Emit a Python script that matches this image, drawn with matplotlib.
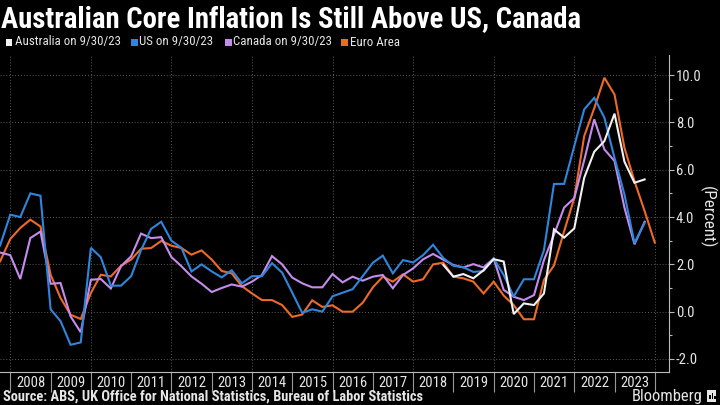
import os
import datetime as dt
import matplotlib
matplotlib.use("Agg")
import matplotlib.pyplot as plt
import matplotlib.dates as mdates
from matplotlib import font_manager as fm
from matplotlib.patches import Rectangle
from matplotlib.ticker import FixedLocator, NullFormatter
import pandas as pd

# ---------------- data ----------------
title = "Australian Core Inflation Is Still Above US, Canada"
series_names = ["Australia on 9/30/23", "US on 9/30/23", "Canada on 9/30/23", "Euro Area"]
source = "Source: ABS, UK Office for National Statistics, Bureau of Labor Statistics"
y_label = "(Percent)"
year_labels = [str(y) for y in range(2008, 2024)]
y_ticks = [-2, 0, 2, 4, 6, 8, 10]

first_quarter = "2007-09-30"
australia_first_quarter = "2018-09-30"

us = [2.8, 4.1, 4.0, 5.0, 4.9, 0.1, -0.4, -1.4, -1.3, 2.7,
      2.3, 1.1, 1.1, 1.5, 2.6, 3.5, 3.8, 3.0, 2.7, 1.7,
      2.0, 1.7, 1.45, 1.75, 1.2, 1.5, 1.5, 2.05, 1.65, 0.8,
      -0.05, 0.1, 0.0, 0.65, 0.8, 0.95, 1.5, 2.07, 2.37, 1.62,
      2.18, 2.08, 2.39, 2.83, 2.27, 1.94, 1.88, 1.68, 1.72, 2.25,
      1.55, 0.64, 1.37, 1.37, 2.6, 5.4, 5.4, 7.0, 8.55, 9.04,
      8.2, 6.5, 4.96, 2.9, 3.75]
canada = [2.5, 2.39, 1.38, 3.11, 3.39, 1.18, 1.21, -0.2, -0.87, 1.35,
          1.38, 0.98, 1.92, 2.34, 3.3, 3.11, 3.15, 2.31, 1.92, 1.49,
          1.18, 0.83, 1.0, 1.15, 1.06, 1.27, 1.55, 2.35, 2.0, 1.44,
          1.2, 1.03, 1.03, 1.59, 1.24, 1.48, 1.31, 1.48, 1.55, 0.99,
          1.55, 1.83, 2.21, 2.44, 2.2, 1.97, 1.87, 2.01, 1.87, 2.25,
          0.92, 0.63, 0.49, 0.7, 2.18, 3.25, 4.4, 4.8, 6.4, 8.13,
          6.86, 6.37, 4.4, 2.85, 3.8]
euro = [2.13, 3.07, 3.54, 3.89, 3.6, 1.56, 0.58, -0.13, -0.31, 0.79,
        1.56, 1.49, 1.94, 2.2, 2.66, 2.69, 2.99, 2.79, 2.69, 2.41,
        2.59, 2.2, 1.72, 1.62, 1.08, 0.77, 0.49, 0.49, 0.28, -0.22,
        -0.12, 0.48, 0.2, 0.27, 0.0, 0.0, 0.38, 1.03, 1.48, 1.27,
        1.58, 1.27, 1.37, 2.0, 2.07, 1.48, 1.41, 1.27, 0.77, 1.27,
        0.68, 0.28, -0.32, -0.32, 1.34, 1.95, 3.4, 4.8, 7.42, 8.6,
        9.89, 9.18, 6.93, 5.52, 4.25, 2.92]
australia = [1.98, 1.48, 1.59, 1.41, 1.75, 2.22, 2.12, -0.1, 0.35, 0.28,
             0.77, 3.48, 3.13, 3.52, 5.66, 6.76, 7.21, 8.37, 6.34, 5.45,
             5.59]

colors = ["#f2f2f2", "#2f86dc", "#c58cee", "#ee6a26"]

# ---------------- fonts ----------------
def find_font(bold):
    prefs = ["robotocondensed", "liberationsansnarrow", "opensanscondensed",
             "dejavusanscondensed"]
    bad = ["italic", "oblique", "light", "thin", "medium", "semibold",
           "extrabold", "black", "semi", "extra"]
    files = sorted({f.fname for f in fm.fontManager.ttflist})
    for p in prefs:
        for fn in files:
            base = os.path.basename(fn).lower().replace("-", "").replace("_", "").replace(" ", "")
            if not base.startswith(p):
                continue
            rest = base[len(p):]
            if any(b in rest for b in bad):
                continue
            is_bold = "bold" in rest
            if is_bold == bold:
                return fm.FontProperties(fname=fn)
    return fm.FontProperties(family="DejaVu Sans", weight="bold" if bold else "normal")

fp_bold = find_font(True)
fp_reg = find_font(False)

# ---------------- figure ----------------
W, H = 720, 405
fig = plt.figure(figsize=(7.2, 4.05), dpi=100, facecolor="black")
renderer = fig.canvas.get_renderer()

def fx(px):
    return px / W

def fy(py):
    return 1 - py / H

def fit_width(txt, target):
    w = txt.get_window_extent(renderer).width
    txt.set_fontsize(txt.get_fontsize() * target / w)

ax = fig.add_axes([0, fy(372), fx(669), (372 - 55) / H])
ax.set_facecolor("black")

def quarter_dates(start, n):
    s = pd.Timestamp(start)
    return [(s + pd.offsets.QuarterEnd(i)).to_pydatetime() for i in range(n)]

d_all = quarter_dates(first_quarter, len(euro))
d_us = d_all[:len(us)]
d_ca = d_all[:len(canada)]
d_au = quarter_dates(australia_first_quarter, len(australia))

lw = 1.5
ax.plot(d_all, euro, color=colors[3], lw=lw, zorder=3, solid_joinstyle="miter")
ax.plot(d_ca, canada, color=colors[2], lw=lw, zorder=4, solid_joinstyle="miter")
ax.plot(d_us, us, color=colors[1], lw=lw, zorder=5, solid_joinstyle="miter")
ax.plot(d_au, australia, color=colors[0], lw=lw, zorder=6, solid_joinstyle="miter")

ax.set_xlim(mdates.date2num(dt.datetime(2007, 9, 29)), mdates.date2num(dt.datetime(2024, 5, 8)))
ax.set_ylim(-2.55, 10.85)

grid_c = "#5a5a5a"
for yr in range(2008, 2025, 2):
    ax.axvline(mdates.date2num(dt.datetime(yr, 1, 1)), color=grid_c, lw=0.7,
               ls=(0, (1, 2)), zorder=1)
ax.yaxis.grid(True, which="major", color=grid_c, lw=0.7, ls=(0, (1, 2)), zorder=1)
ax.set_axisbelow(True)

# x axis: separators at year boundaries, labels centred in year
ax.xaxis.set_major_locator(FixedLocator(
    [mdates.date2num(dt.datetime(y, 1, 1)) for y in range(2008, 2025)]))
ax.xaxis.set_major_formatter(NullFormatter())
ax.xaxis.set_minor_locator(FixedLocator(
    [mdates.date2num(dt.datetime(int(y), 7, 2)) for y in year_labels]))
ax.set_xticklabels(year_labels, minor=True)
ax.tick_params(axis="x", which="major", direction="out", length=14.5, width=0.8,
               color="#9a9a9a")
ax.tick_params(axis="x", which="minor", length=0, pad=3, labelcolor="#e6e6e6")

# y axis on the right
ax.yaxis.tick_right()
ax.set_yticks(y_ticks)
ax.set_yticklabels([f"{v:.1f}" for v in y_ticks])
ax.yaxis.set_minor_locator(FixedLocator([v + 1 for v in y_ticks[:-1]]))
ax.tick_params(axis="y", which="major", direction="out", length=3.5, width=0.8,
               color="#bbbbbb", labelcolor="#e6e6e6", pad=1.5)
ax.tick_params(axis="y", which="minor", direction="out", length=2, width=0.8,
               color="#bbbbbb")

for s in ["left", "top"]:
    ax.spines[s].set_visible(False)
for s in ["right", "bottom"]:
    ax.spines[s].set_color("#bbbbbb")
    ax.spines[s].set_linewidth(0.8)

# tick label fonts
probe = fig.text(0, 0, "2008", fontproperties=fp_reg, fontsize=10)
tick_size = 10 * 28.5 / probe.get_window_extent(renderer).width
probe.remove()
for lab in ax.get_xticklabels(minor=True) + ax.get_yticklabels():
    lab.set_fontproperties(fp_reg)
    lab.set_fontsize(tick_size)

# title
t = fig.text(fx(1), fy(27.5), title, color="white", fontproperties=fp_bold,
             fontsize=14, va="baseline", ha="left")
fit_width(t, 583)

# legend
leg_text_x = [14.7, 139, 233, 350]
leg_sq_x = [5.5, 131, 225, 341]
leg_y = 42
probe = fig.text(0, 0, series_names[0], fontproperties=fp_reg, fontsize=10)
leg_size = 10 * 105 / probe.get_window_extent(renderer).width
probe.remove()
for name, tx, sx, c in zip(series_names, leg_text_x, leg_sq_x, colors):
    fig.patches.append(Rectangle((fx(sx), fy(leg_y + 3.5)), 6.5 / W, 7 / H,
                                 transform=fig.transFigure, facecolor=c,
                                 edgecolor="none"))
    fig.text(fx(tx), fy(leg_y), name, color="#e6e6e6", fontproperties=fp_reg,
             fontsize=leg_size, va="center", ha="left")

# y label
yl = fig.text(fx(708), fy(217), y_label, color="#e6e6e6", fontproperties=fp_reg,
              fontsize=10, va="center", ha="center")
fit_width(yl, 62)
yl.set_rotation(270)
yl.set_rotation_mode("anchor")

# source & branding
st = fig.text(fx(3), fy(397), source, color="#e6e6e6", fontproperties=fp_bold,
              fontsize=9, va="center", ha="left")
fit_width(st, 420)
bt = fig.text(fx(632), fy(396), "Bloomberg", color="#e6e6e6", fontproperties=fp_reg,
              fontsize=9, va="center", ha="left")
fit_width(bt, 71)
fig.patches.append(Rectangle((fx(707), fy(402)), 9 / W, 12 / H, transform=fig.transFigure,
                             facecolor="#e6e6e6", edgecolor="none"))
for i, (bx, bh) in enumerate([(709, 4), (711.5, 6), (714, 3)]):
    fig.patches.append(Rectangle((fx(bx), fy(399)), 1.5 / W, bh / H,
                                 transform=fig.transFigure, facecolor="black",
                                 edgecolor="none"))

fig.savefig("out.png", dpi=100, facecolor="black")
